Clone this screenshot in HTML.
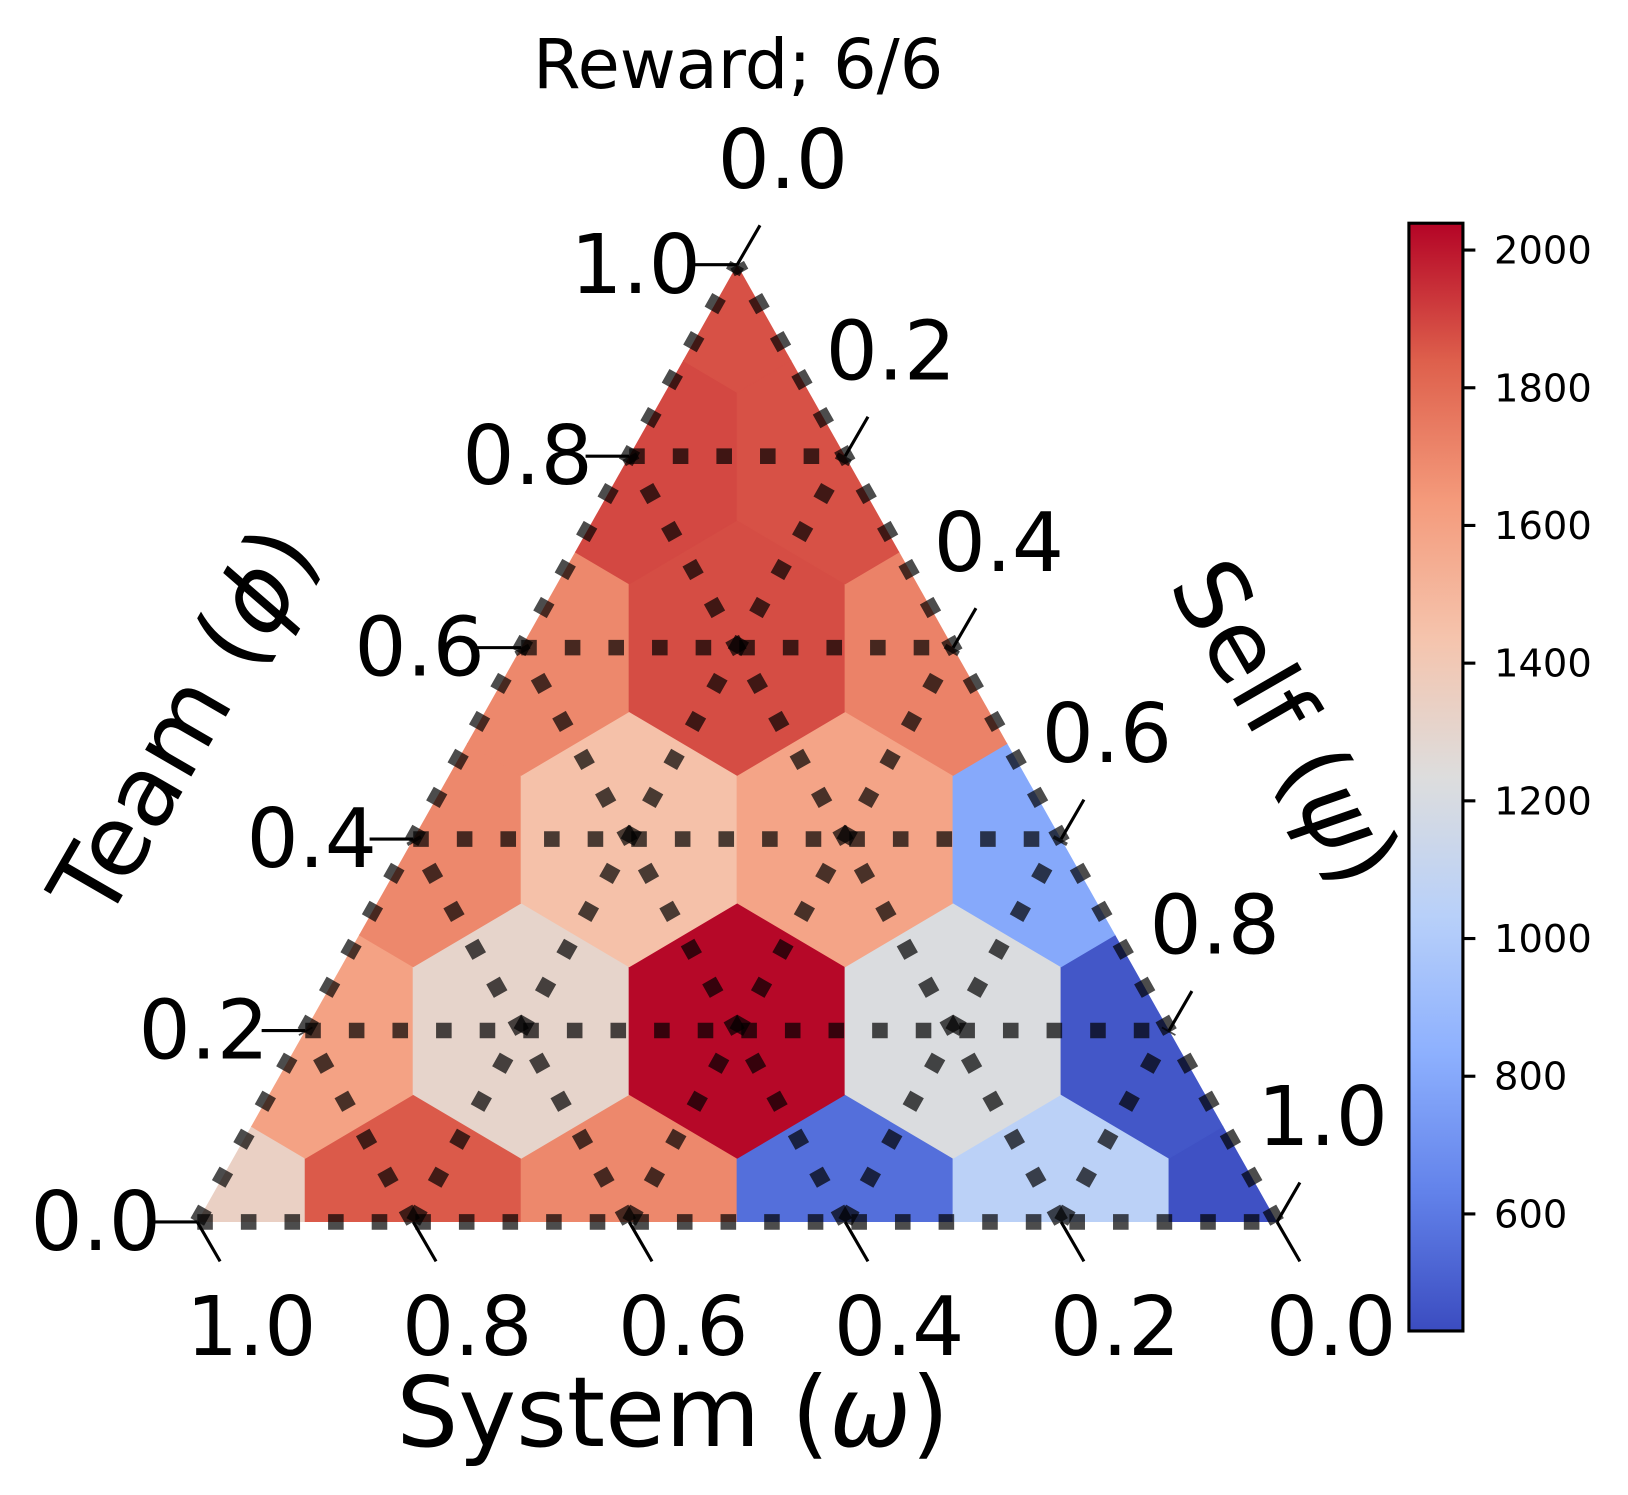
<!DOCTYPE html>
<html><head><meta charset="utf-8"><style>
html,body{margin:0;padding:0;background:#fff;}
svg{display:block;font-family:"DejaVu Sans","Liberation Sans",sans-serif;}
</style></head><body>
<svg id="chart" width="1628" height="1495" viewBox="0 0 1568 1440" preserveAspectRatio="none" xmlns="http://www.w3.org/2000/svg">
<defs>
<clipPath id="tri"><polygon points="190,1177 1230,1177 710,255"/></clipPath>
<linearGradient id="cbar" x1="0" y1="1" x2="0" y2="0"></linearGradient>
</defs>
<text x="711" y="85" font-size="66" text-anchor="middle">Reward; 6/6</text>
<g id="hexes" clip-path="url(#tri)"></g>
<g id="grid"></g>
<g id="ticks"></g>
<text x="648" y="1393" font-size="94" text-anchor="middle">System (<tspan font-style="italic">ω</tspan>)</text>
<text transform="translate(205,712) rotate(-60)" font-size="94" text-anchor="middle">Team (<tspan font-style="italic">ϕ</tspan>)</text>
<text transform="translate(1210,712) rotate(60)" font-size="94" text-anchor="middle">Self (<tspan font-style="italic">ψ</tspan>)</text>
<g id="colorbar"></g>
</svg>
<script>
// values by team-level row (row 0 = bottom), left to right
const row0 = [1340, 1850, 1700, 560, 1050, 450];
const row1 = [1600, 1310, 2030, 1220, 470];
const row2 = [1700, 1450, 1590, 800];
const row3 = [1700, 1880, 1720];
const row4 = [1890, 1870];
const row5 = [1870];
const cbTicks = [600, 800, 1000, 1200, 1400, 1600, 1800, 2000];
const axisLabels = ["0.0", "0.2", "0.4", "0.6", "0.8", "1.0"];
const vmin = 430, vmax = 2039;

const rows = [row0,row1,row2,row3,row4,row5];
const NS = "http://www.w3.org/2000/svg";
const X0 = 190, XW = 1040, Y0 = 1177, YH = 922, N = 5;
function px(a, t) { return X0 + XW * (a + t / 2); }
function py(t) { return Y0 - YH * t; }
const cm = [[59,76,192],[98,130,234],[141,176,254],[184,208,249],[221,221,221],[245,196,173],[244,154,123],[222,96,76],[180,4,38]];
function color(v) {
  let f = Math.max(0, Math.min(1, (v - vmin) / (vmax - vmin))) * 8;
  let i = Math.min(7, Math.floor(f)), r = f - i;
  const c = cm[i].map((c0, k) => Math.round(c0 + (cm[i+1][k] - c0) * r));
  return `rgb(${c[0]},${c[1]},${c[2]})`;
}
function el(tag, attrs, parent) {
  const e = document.createElementNS(NS, tag);
  for (const k in attrs) e.setAttribute(k, attrs[k]);
  parent.appendChild(e); return e;
}
const hexG = document.getElementById('hexes');
const hw = XW / N / 2, hv = YH / N * 2 / 3, hh = hv / 2;
rows.forEach((row, t) => {
  row.forEach((v, i) => {
    const cx = px(i / N, t / N), cy = py(t / N);
    const pts = [[cx,cy-hv],[cx+hw,cy-hh],[cx+hw,cy+hh],[cx,cy+hv],[cx-hw,cy+hh],[cx-hw,cy-hh]].map(p=>p.join(',')).join(' ');
    const h = el('polygon', {points: pts, fill: color(v), stroke: color(v), 'stroke-width': 1}, hexG);
    
    
  });
});
const gridG = document.getElementById('grid');
const gs = {stroke: 'rgba(0,0,0,0.7)', 'stroke-width': 15, 'stroke-dasharray': '15 27', fill: 'none'};
function line(x1,y1,x2,y2,name){
  const l = el('line', Object.assign({x1,y1,x2,y2}, gs), gridG);
  
  
}
for (let k = 0; k <= N; k++) {
  const f = k / N;
  if (k < N) line(px(0,f), py(f), px(1-f,f), py(f), 'grid-line-team');
  if (k < N) line(px(f,0), py(0), px(f,1-f), py(1-f), 'grid-line-self');
  if (k > 0) line(px(f,0), py(0), px(0,f), py(f), 'grid-line-system');
}
const tG = document.getElementById('ticks');
for (let k = 0; k <= N; k++) {
  const f = k / N;
  let x = px(0,f), y = py(f);
  let l = el('line', {x1:x, y1:y, x2:x-42, y2:y, stroke:'#000', 'stroke-width':3}, tG);
   
  let t = el('text', {x:x-35, y:y+27, 'font-size':79, 'text-anchor':'end'}, tG);
  t.textContent = axisLabels[k];
   
  x = px(f,0); y = py(0);
  l = el('line', {x1:x, y1:y, x2:x+22, y2:y+38, stroke:'#000', 'stroke-width':3}, tG);
   
  t = el('text', {x:x+52, y:y+128, 'font-size':79, 'text-anchor':'middle'}, tG);
  t.textContent = axisLabels[N-k];
   
  const g = (N - k) / N;
  x = px(1-g, g); y = py(g);
  l = el('line', {x1:x, y1:y, x2:x+22, y2:y-38, stroke:'#000', 'stroke-width':3}, tG);
   
  t = el('text', {x:x+44, y:y-74, 'font-size':79, 'text-anchor':'middle'}, tG);
  t.textContent = axisLabels[k];
   
}
const cb = document.getElementById('colorbar');
const grad = document.getElementById('cbar');
for (let i = 0; i <= 8; i++) el('stop', {offset: i/8, 'stop-color': `rgb(${cm[i].join(',')})`}, grad);
const CX = 1357, CW = 52, CT = 215, CB = 1282;
const r = el('rect', {x:CX, y:CT, width:CW, height:CB-CT, fill:'url(#cbar)', stroke:'#000', 'stroke-width':3}, cb);
 
function cy(v){ return CB - (v - vmin) / (vmax - vmin) * (CB - CT); }
cbTicks.forEach(v => {
  const y = cy(v);
  const l = el('line', {x1:CX+CW, y1:y, x2:CX+CW+12, y2:y, stroke:'#000', 'stroke-width':3}, cb);
   
  const t = el('text', {x:CX+CW+30, y:y+13, 'font-size':37}, cb);
  t.textContent = v;
   
});
</script>
</body></html>
